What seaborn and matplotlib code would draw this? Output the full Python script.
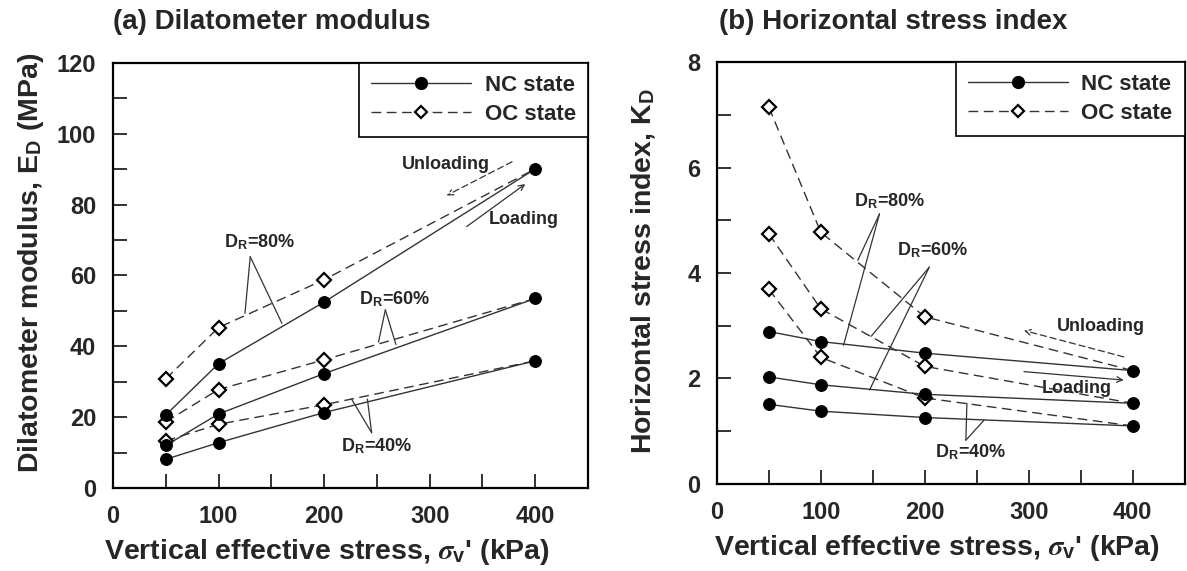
import matplotlib
matplotlib.use("Agg")
import matplotlib.pyplot as plt
from matplotlib.lines import Line2D
from matplotlib.ticker import MultipleLocator
import seaborn as sns

# Vertical effective stress levels (kPa)
stress = [50, 100, 200, 400]

# Dilatometer modulus E_D (MPa)
ed_nc_80 = [20.6, 35.1, 52.5, 90.1]
ed_nc_60 = [12.0, 20.9, 32.3, 53.5]
ed_nc_40 = [8.1, 12.8, 21.3, 35.9]
ed_oc_80 = [30.8, 45.3, 58.8, 90.1]
ed_oc_60 = [18.7, 27.8, 36.2, 53.5]
ed_oc_40 = [13.3, 18.0, 23.5, 35.9]

# Horizontal stress index K_D
kd_nc_80 = [2.89, 2.70, 2.48, 2.15]
kd_nc_60 = [2.03, 1.88, 1.70, 1.53]
kd_nc_40 = [1.51, 1.38, 1.26, 1.10]
kd_oc_80 = [7.14, 4.77, 3.17, 2.15]
kd_oc_60 = [4.74, 3.32, 2.23, 1.53]
kd_oc_40 = [3.69, 2.40, 1.63, 1.10]

legend_labels = ["NC state", "OC state"]

sns.set_style("ticks")
plt.rcParams["font.family"] = ["Liberation Sans", "DejaVu Sans"]
plt.rcParams["font.weight"] = "bold"
plt.rcParams["mathtext.fontset"] = "stix"

fig = plt.figure(figsize=(11.87, 5.71), dpi=100)
ax1 = fig.add_axes([0.0952, 0.1454, 0.4002, 0.7443])
ax2 = fig.add_axes([0.6040, 0.1524, 0.3940, 0.7390])

LINE_C = "#333333"
DASH = (0, (7, 4))
LABEL_FS = 20.5


def draw_series(ax, nc_sets, oc_sets):
    for vals in oc_sets:
        sns.lineplot(x=stress, y=vals, ax=ax, color=LINE_C, lw=1.0,
                     linestyle=DASH, marker="D", markersize=7,
                     markerfacecolor="white", markeredgecolor="black",
                     markeredgewidth=1.6, markevery=[0, 1, 2],
                     estimator=None, sort=False, zorder=2)
    for vals in nc_sets:
        sns.lineplot(x=stress, y=vals, ax=ax, color=LINE_C, lw=1.0,
                     marker="o", markersize=8.5, markerfacecolor="black",
                     markeredgecolor="black", estimator=None, sort=False,
                     zorder=3)


def style_axes(ax, ymax, ymaj, ymin, xlabel_x):
    ax.set_xlim(0, 450)
    ax.set_ylim(0, ymax)
    ax.xaxis.set_major_locator(MultipleLocator(100))
    ax.xaxis.set_minor_locator(MultipleLocator(50))
    ax.yaxis.set_major_locator(MultipleLocator(ymaj))
    ax.yaxis.set_minor_locator(MultipleLocator(ymin))
    ax.tick_params(which="both", direction="in", length=10, width=1.3,
                   top=False, right=False, color="#222222")
    ax.tick_params(which="major", labelsize=17, pad=12)
    for sp in ax.spines.values():
        sp.set_linewidth(1.6)
        sp.set_color("black")
    ax.set_xlabel(r"Vertical effective stress, $\sigma_\mathregular{v}$' (kPa)",
                  fontsize=LABEL_FS, fontweight="bold")
    ax.xaxis.set_label_coords(xlabel_x, -0.115)
    handles = [
        Line2D([], [], color=LINE_C, lw=1.0, marker="o", markersize=8.5,
               markerfacecolor="black", markeredgecolor="black"),
        Line2D([], [], color=LINE_C, lw=1.0, linestyle=DASH,
               marker="D", markersize=6, markerfacecolor="white",
               markeredgecolor="black", markeredgewidth=1.6),
    ]
    leg = ax.legend(handles, legend_labels, loc="upper right",
                    borderaxespad=0, fancybox=False, framealpha=1,
                    edgecolor="black", handlelength=4.5, handletextpad=0.6,
                    borderpad=0.55, labelspacing=0.35,
                    prop={"size": 16, "weight": "bold"})
    leg.get_frame().set_linewidth(1.2)


def leader(ax, apex, ends):
    for e in ends:
        ax.plot([apex[0], e[0]], [apex[1], e[1]], color="#333333", lw=0.9)


ann_fs = 13

# ---- (a) Dilatometer modulus ----
draw_series(ax1, [ed_nc_80, ed_nc_60, ed_nc_40], [ed_oc_80, ed_oc_60, ed_oc_40])
style_axes(ax1, 120, 20, 10, 0.45)
ax1.set_ylabel(r"Dilatometer modulus, E$_\mathregular{D}$ (MPa)",
               fontsize=LABEL_FS, fontweight="bold")
ax1.yaxis.set_label_coords(-0.142, 0.53)

ax1.text(139, 69.5, r"D$_\mathregular{R}$=80%", ha="center", va="center",
         fontsize=ann_fs, fontweight="bold")
leader(ax1, (130, 65.3), [(125, 49.3), (160, 46.5)])
ax1.text(267, 53.4, r"D$_\mathregular{R}$=60%", ha="center", va="center",
         fontsize=ann_fs, fontweight="bold")
leader(ax1, (258, 50.3), [(251.5, 41.2), (268, 40.5)])
ax1.text(250, 11.8, r"D$_\mathregular{R}$=40%", ha="center", va="center",
         fontsize=ann_fs, fontweight="bold")
leader(ax1, (245, 15.6), [(226, 25.1), (241, 25.1)])

ax1.text(315, 91.2, "Unloading", ha="center", va="center",
         fontsize=ann_fs, fontweight="bold")
ax1.annotate("", xy=(316, 82.6), xytext=(378, 92.1),
             arrowprops=dict(arrowstyle="->", color="#333333", lw=0.9,
                             linestyle=(0, (5, 3)), shrinkA=0, shrinkB=0))
ax1.text(389, 75.9, "Loading", ha="center", va="center",
         fontsize=ann_fs, fontweight="bold")
ax1.annotate("", xy=(390.5, 85.8), xytext=(335, 73.8),
             arrowprops=dict(arrowstyle="->", color="#333333", lw=0.9,
                             shrinkA=0, shrinkB=0))

# ---- (b) Horizontal stress index ----
draw_series(ax2, [kd_nc_80, kd_nc_60, kd_nc_40], [kd_oc_80, kd_oc_60, kd_oc_40])
style_axes(ax2, 8, 2, 1, 0.47)
ax2.set_ylabel(r"Horizontal stress index, K$_\mathregular{D}$",
               fontsize=LABEL_FS, fontweight="bold")
ax2.yaxis.set_label_coords(-0.129, 0.505)

ax2.text(166, 5.36, r"D$_\mathregular{R}$=80%", ha="center", va="center",
         fontsize=ann_fs, fontweight="bold")
leader(ax2, (156.4, 5.12), [(135.5, 4.24), (121.8, 2.63)])
ax2.text(207.5, 4.43, r"D$_\mathregular{R}$=60%", ha="center", va="center",
         fontsize=ann_fs, fontweight="bold")
leader(ax2, (204.3, 4.11), [(148.4, 2.80), (146.8, 1.78)])
ax2.text(244.3, 0.61, r"D$_\mathregular{R}$=40%", ha="center", va="center",
         fontsize=ann_fs, fontweight="bold")
leader(ax2, (239.5, 0.83), [(240.5, 1.53), (257, 1.21)])

ax2.text(369, 2.98, "Unloading", ha="center", va="center",
         fontsize=ann_fs, fontweight="bold")
ax2.annotate("", xy=(295.4, 2.91), xytext=(391.4, 2.41),
             arrowprops=dict(arrowstyle="->", color="#333333", lw=0.9,
                             linestyle=(0, (5, 3)), shrinkA=0, shrinkB=0))
ax2.text(346.6, 1.81, "Loading", ha="center", va="center",
         fontsize=ann_fs, fontweight="bold")
ax2.annotate("", xy=(391.4, 1.97), xytext=(295.4, 2.13),
             arrowprops=dict(arrowstyle="->", color="#333333", lw=0.9,
                             shrinkA=0, shrinkB=0))

# Panel titles
fig.text(0.0952, 0.962, "(a) Dilatometer modulus", ha="left", va="center",
         fontsize=20, fontweight="bold")
fig.text(0.6040 + 0.002, 0.962, "(b) Horizontal stress index", ha="left",
         va="center", fontsize=20, fontweight="bold")

# Bold tick labels on both panels
fig.canvas.draw()
for ax in (ax1, ax2):
    for lab in ax.get_xticklabels() + ax.get_yticklabels():
        lab.set_fontweight("bold")

fig.savefig("out.png", dpi=100)
